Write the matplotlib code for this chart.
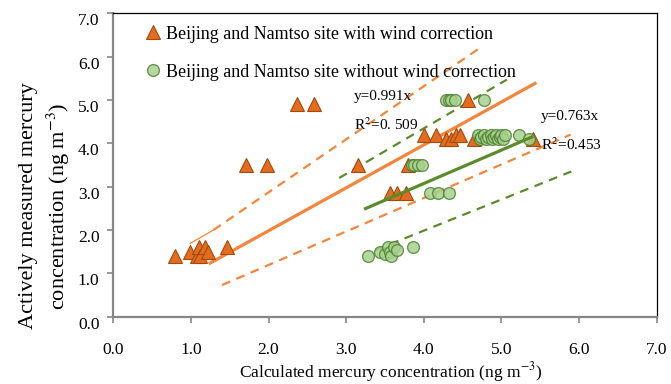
import numpy as np
import matplotlib
matplotlib.use("Agg")
import matplotlib.pyplot as plt
import matplotlib.transforms as mtransforms
from matplotlib.ticker import FormatStrFormatter, MultipleLocator

plt.rcParams['font.family'] = ['Liberation Serif', 'DejaVu Serif']
plt.rcParams['mathtext.fontset'] = 'stix'

# with wind correction (triangles)
wind_x = [0.80, 0.99, 1.08, 1.10, 1.12, 1.18, 1.22, 1.46,
          1.71, 1.98, 3.15, 3.79,
          2.37, 2.58, 4.57,
          3.57, 3.66, 3.77,
          4.00, 4.16, 4.28, 4.35, 4.42, 4.46, 4.65, 5.41]
wind_y = [1.4, 1.5, 1.4, 1.6, 1.4, 1.6, 1.5, 1.6,
          3.5, 3.5, 3.5, 3.5,
          4.9, 4.9, 5.0,
          2.85, 2.85, 2.85,
          4.2, 4.2, 4.1, 4.1, 4.2, 4.2, 4.1, 4.1]

# without wind correction (circles)
nowind_x = [4.29, 4.33, 4.35, 4.40, 4.77,
            3.85, 3.88, 3.92, 3.98,
            4.08, 4.18, 4.33,
            3.28, 3.44, 3.50, 3.54, 3.57, 3.58, 3.62, 3.66, 3.86,
            4.70, 4.72, 4.74, 4.78, 4.80, 4.83, 4.86, 4.88, 4.91, 4.93,
            4.95, 4.98, 5.00, 5.02, 5.04,
            5.22, 5.35]
nowind_y = [5.0, 5.0, 5.0, 5.0, 5.0,
            3.5, 3.5, 3.5, 3.5,
            2.85, 2.85, 2.85,
            1.4, 1.5, 1.45, 1.6, 1.5, 1.4, 1.6, 1.55, 1.6,
            4.2, 4.1, 4.15, 4.2, 4.1, 4.15, 4.2, 4.1, 4.15, 4.2,
            4.1, 4.15, 4.2, 4.1, 4.2,
            4.2, 4.1]

# fitted lines and bounds (end points)
fit_wind_x = [1.23, 5.45]
fit_wind_y = [1.22, 5.40]
fit_nowind_x = [3.23, 5.41]
fit_nowind_y = [2.48, 4.16]
up_wind_x = [1.29, 4.73]
up_wind_y = [2.00, 6.21]
up_wind_stub_x = [0.99, 1.29]
up_wind_stub_y = [1.69, 2.00]
lo_wind_x = [1.40, 5.89]
lo_wind_y = [0.73, 4.20]
up_nowind_x = [2.91, 5.07]
up_nowind_y = [3.20, 5.47]
lo_nowind_x = [3.38, 5.90]
lo_nowind_y = [1.54, 3.35]

orange = '#f4853a'
green = '#5a8c2e'

fig = plt.figure(figsize=(6.71, 3.84), dpi=100)
ax = fig.add_axes([113.3 / 671, 1 - 316.7 / 384, 543.4 / 671, 303.4 / 384])

ax.plot(fit_wind_x, fit_wind_y, color=orange, lw=2.3, solid_capstyle='butt')
ax.plot(up_wind_x, up_wind_y, color=orange, lw=1.6, dashes=(4, 3))
ax.plot(up_wind_stub_x, up_wind_stub_y, color=orange, lw=0.9)
ax.plot(lo_wind_x, lo_wind_y, color=orange, lw=1.6, dashes=(4, 3))
ax.plot(up_nowind_x, up_nowind_y, color=green, lw=1.6, dashes=(4, 3))
ax.plot(lo_nowind_x, lo_nowind_y, color=green, lw=1.6, dashes=(4, 3))

ax.plot(wind_x, wind_y, linestyle='none', marker='^', markersize=9.5,
        markerfacecolor='#e36c1e', markeredgecolor='#a24a10', markeredgewidth=0.8,
        label='Beijing and Namtso site with wind correction', zorder=3)
ax.plot(nowind_x, nowind_y, linestyle='none', marker='o', markersize=8.5,
        markerfacecolor=(0.66, 0.82, 0.56, 0.85), markeredgecolor=(0.30, 0.50, 0.18, 0.8),
        markeredgewidth=1.0,
        label='Beijing and Namtso site without wind correction', zorder=3)
ax.plot(fit_nowind_x, fit_nowind_y, color=green, lw=2.3, solid_capstyle='butt', zorder=4)

ax.text(3.10, 5.07, 'y=0.991x', fontsize=11, va='center')
ax.text(3.10, 4.43, 'R$^2$=0. 509', fontsize=11, va='center')
ax.text(5.51, 4.63, 'y=0.763x', fontsize=11, va='center')
ax.text(5.51, 3.97, 'R$^2$=0.453', fontsize=11, va='center')

ax.set_xlim(0, 7)
ax.set_ylim(0, 7)
ax.xaxis.set_major_locator(MultipleLocator(1))
ax.yaxis.set_major_locator(MultipleLocator(1))
ax.xaxis.set_major_formatter(FormatStrFormatter('%.1f'))
ax.yaxis.set_major_formatter(FormatStrFormatter('%.1f'))
ax.tick_params(direction='out', length=4, width=1.2, color='#868686',
               labelsize=12.5)
ax.tick_params(axis='x', pad=14)
ax.tick_params(axis='y', pad=6)

for side in ['left', 'bottom']:
    ax.spines[side].set_color('#868686')
    ax.spines[side].set_linewidth(1.6)
for side in ['top', 'right']:
    ax.spines[side].set_color('black')
    ax.spines[side].set_linewidth(0.9)

# only the first x label sits off its tick
fig.canvas.draw()
dx = mtransforms.ScaledTranslation(7 / 100, 0, fig.dpi_scale_trans)
xlabs = ax.get_xticklabels()
xlabs[0].set_transform(xlabs[0].get_transform() + dx)
dy = mtransforms.ScaledTranslation(0, -6 / 100, fig.dpi_scale_trans)
for lab in ax.get_yticklabels():
    lab.set_transform(lab.get_transform() + dy)

fig.text(391 / 671, 1 - 372 / 384, 'Calculated mercury concentration (ng m$^{-3}$)',
         ha='center', va='center', fontsize=12.5)
fig.text(28 / 671, 1 - 206 / 384, 'Actively measured mercury', rotation=90,
         ha='center', va='center', fontsize=16)
fig.text(58 / 671, 1 - 206 / 384, 'concentration (ng m$^{-3}$)', rotation=90,
         ha='center', va='center', fontsize=16)

ax.legend(loc='upper left', bbox_to_anchor=(0.037, 1.0), frameon=False,
          fontsize=13.0, handlelength=0.8, handletextpad=0.3, labelspacing=1.17,
          borderpad=0.18)

fig.savefig('out.png', dpi=100)
